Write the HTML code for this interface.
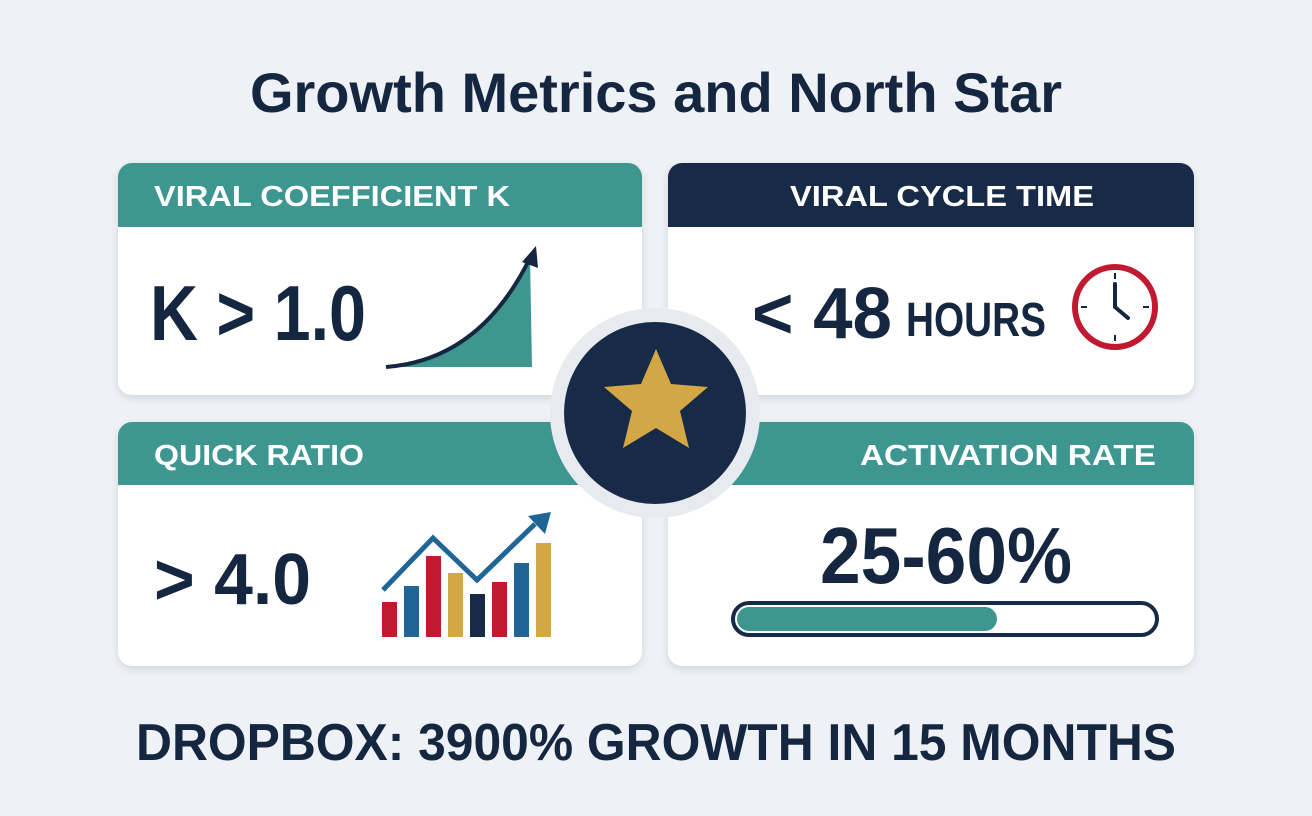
<!DOCTYPE html><html><head><style>body{margin:0;background:#eef1f5}svg{display:block}</style></head><body>
<svg width="1312" height="816" viewBox="0 0 1312 816" xmlns="http://www.w3.org/2000/svg" font-family="Liberation Sans, sans-serif">
<rect width="1312" height="816" fill="#eef1f5"/>
<text x="656" y="112" text-anchor="middle" font-size="56" font-weight="bold" fill="#152640">Growth Metrics and North Star</text>
<defs><filter id="s" x="-5%" y="-5%" width="110%" height="115%"><feDropShadow dx="0" dy="3" stdDeviation="4" flood-color="#000" flood-opacity="0.12"/></filter>
<clipPath id="c1"><rect x="118" y="163" width="524" height="232" rx="14"/></clipPath>
<clipPath id="c2"><rect x="668" y="163" width="526" height="232" rx="14"/></clipPath>
<clipPath id="c3"><rect x="118" y="422" width="524" height="244" rx="14"/></clipPath>
<clipPath id="c4"><rect x="668" y="422" width="526" height="244" rx="14"/></clipPath></defs>
<g filter="url(#s)">
<rect x="118" y="163" width="524" height="232" rx="14" fill="#fff"/>
<rect x="668" y="163" width="526" height="232" rx="14" fill="#fff"/>
<rect x="118" y="422" width="524" height="244" rx="14" fill="#fff"/>
<rect x="668" y="422" width="526" height="244" rx="14" fill="#fff"/>
</g>
<rect x="118" y="163" width="524" height="64" fill="#3e9690" clip-path="url(#c1)"/>
<rect x="668" y="163" width="526" height="64" fill="#172a47" clip-path="url(#c2)"/>
<rect x="118" y="422" width="524" height="63" fill="#3e9690" clip-path="url(#c3)"/>
<rect x="668" y="422" width="526" height="63" fill="#3e9690" clip-path="url(#c4)"/>
<g font-size="29" font-weight="bold" fill="#fff">
<text x="154" y="206" textLength="356" lengthAdjust="spacingAndGlyphs">VIRAL COEFFICIENT K</text>
<text x="790" y="206" textLength="304" lengthAdjust="spacingAndGlyphs">VIRAL CYCLE TIME</text>
<text x="154" y="465" textLength="210" lengthAdjust="spacingAndGlyphs">QUICK RATIO</text>
<text x="860" y="465" textLength="296" lengthAdjust="spacingAndGlyphs">ACTIVATION RATE</text>
</g>
<g font-weight="bold" fill="#152640">
<text x="150" y="340" font-size="78" textLength="216" lengthAdjust="spacingAndGlyphs">K &gt; 1.0</text>
<text x="752" y="338" font-size="72" textLength="140" lengthAdjust="spacingAndGlyphs">&lt; 48</text>
<text x="906" y="336" font-size="48" textLength="140" lengthAdjust="spacingAndGlyphs">HOURS</text>
<text x="154" y="604" font-size="72" textLength="157" lengthAdjust="spacingAndGlyphs">&gt; 4.0</text>
<text x="820" y="583" font-size="80" textLength="252" lengthAdjust="spacingAndGlyphs">25-60%</text>
</g>
<path d="M386 367 Q480 360 530 258 L532 367 Z" fill="#3e9690"/>
<path d="M386 367 Q480 360 530 258" fill="none" stroke="#152640" stroke-width="4"/>
<path d="M522 262 L536 246 L538 268 Z" fill="#152640"/>
<circle cx="1115" cy="307" r="40" fill="#fff" stroke="#c1192f" stroke-width="6"/>
<g stroke="#152640" stroke-width="2"><line x1="1115" y1="273" x2="1115" y2="279"/><line x1="1115" y1="335" x2="1115" y2="341"/><line x1="1081" y1="307" x2="1087" y2="307"/><line x1="1143" y1="307" x2="1149" y2="307"/></g>
<path d="M1115 284 L1115 307 L1128 318" fill="none" stroke="#152640" stroke-width="4" stroke-linecap="round"/>
<g>
<rect x="382" y="602" width="15" height="35" fill="#c1192f"/>
<rect x="404" y="586" width="15" height="51" fill="#1f6596"/>
<rect x="426" y="556" width="15" height="81" fill="#c1192f"/>
<rect x="448" y="573" width="15" height="64" fill="#d4a746"/>
<rect x="470" y="594" width="15" height="43" fill="#172a47"/>
<rect x="492" y="582" width="15" height="55" fill="#c1192f"/>
<rect x="514" y="563" width="15" height="74" fill="#1f6596"/>
<rect x="536" y="543" width="15" height="94" fill="#d4a746"/>
</g>
<path d="M383 590 L433 538 L477 580 L535 524" fill="none" stroke="#1f6596" stroke-width="5"/>
<path d="M528 516 L551 512 L545 534 Z" fill="#1f6596"/>
<rect x="733" y="603" width="424" height="32" rx="16" fill="#fff" stroke="#172a47" stroke-width="4"/>
<rect x="737" y="607" width="260" height="24" rx="12" fill="#3e9690"/>
<circle cx="655" cy="413" r="105" fill="#e7ebef"/>
<circle cx="655" cy="413" r="91" fill="#172a47"/>
<polygon points="656,349 671,384 708,387 680,411 689,448 656,428 623,448 632,411 604,387 641,384" fill="#d4a746"/>
<text x="136" y="760" font-size="52" font-weight="bold" fill="#152640" textLength="1040" lengthAdjust="spacingAndGlyphs">DROPBOX: 3900% GROWTH IN 15 MONTHS</text>
</svg></body></html>
